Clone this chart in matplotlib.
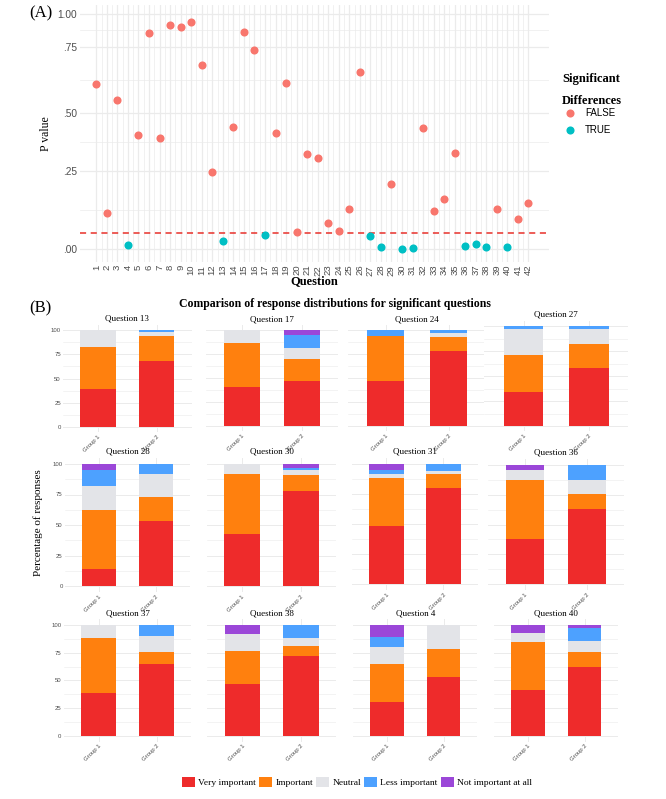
import numpy as np
import matplotlib
matplotlib.use("Agg")
import matplotlib.pyplot as plt
from matplotlib.patches import Patch

# ---- panel A data: p value per question ----
questions = list(range(1, 43))
p_values = [0.609, 0.114, 0.549, 0.012, 0.405, 0.856, 0.391, 0.914, 0.899, 0.942,
            0.683, 0.248, 0.026, 0.441, 0.864, 0.740, 0.045, 0.415, 0.614, 0.055,
            0.323, 0.305, 0.084, 0.058, 0.128, 0.655, 0.041, 0.006, 0.207, 0.001,
            0.004, 0.434, 0.123, 0.159, 0.326, 0.009, 0.016, 0.005, 0.128, 0.007,
            0.095, 0.147]
alpha = 0.05

# ---- panel B data: % of responses per level, group 1 / group 2 ----
levels = ["Very important", "Important", "Neutral", "Less important", "Not important at all"]
level_colors = ["#EE2B2B", "#FF800E", "#E3E4E8", "#4DA1FF", "#9B47D8"]
sig_questions = [13, 17, 24, 27, 28, 30, 31, 36, 37, 38, 4, 40]
group1_pct = [[39, 43, 18, 0, 0], [41, 45, 14, 0, 0], [47, 47, 0, 6, 0], [34, 37, 26, 3, 0],
              [14, 48, 20, 13, 5], [43, 49, 8, 0, 0], [48, 40, 4, 3, 5], [38, 49, 9, 0, 4],
              [39, 49, 12, 0, 0], [47, 30, 15, 0, 8], [31, 34, 15, 9, 11], [41, 44, 8, 0, 7]]
group2_pct = [[68, 26, 4, 2, 0], [47, 23, 11, 14, 5], [78, 15, 4, 3, 0], [58, 24, 15, 3, 0],
              [53, 20, 19, 8, 0], [78, 13, 4, 2, 3], [80, 12, 2, 6, 0], [63, 13, 11, 13, 0],
              [65, 11, 14, 10, 0], [72, 9, 7, 12, 0], [53, 25, 22, 0, 0], [62, 14, 10, 11, 3]]
groups = ["Group 1", "Group 2"]

W, H = 666, 799
SERIF = "Liberation Serif"
SANS = "Liberation Sans"
GRID = "#EBEBEB"


def box(x0, y0, x1, y1):
    # pixel box (top-left origin) -> figure fraction rect
    return [x0 / W, 1 - y1 / H, (x1 - x0) / W, (y1 - y0) / H]


fig = plt.figure(figsize=(W / 100, H / 100), dpi=100)

# ================= panel A =================
ax = fig.add_axes(box(80, 5, 549, 262))
# the y axis in the source is not evenly spaced, so map tick values to their spacing
kv = [-1, 0, 0.25, 0.5, 0.75, 1, 2]
kd = [-312, 0, 78, 136, 202, 235, 367]
ax.set_yscale("function", functions=(lambda v: np.interp(v, kv, kd),
                                     lambda d: np.interp(d, kd, kv)))
p = np.array(p_values)
q = np.array(questions)
ns = p >= alpha
h_false = ax.scatter(q[ns], p[ns], s=34, color="#F8766D", zorder=3, linewidths=0)
h_true = ax.scatter(q[~ns], p[~ns], s=34, color="#00BFC4", zorder=3, linewidths=0)
ax.axhline(alpha, color="#E8302A", linestyle=(0, (4, 3)), linewidth=1.1, zorder=2)
ax.set_xlim(-0.55, 43.95)
ax.set_ylim(-0.042, 1.068)
ax.set_yticks([0, 0.25, 0.5, 0.75, 1.0])
ax.set_yticklabels([".00", ".25", ".50", ".75", "1.00"])
ax.set_yticks([0.125, 0.375, 0.625, 0.875], minor=True)
ax.set_xticks(questions)
ax.set_xticklabels([str(i) for i in questions], rotation=90)
ax.set_xticks(np.arange(1.5, 42, 1), minor=True)
ax.grid(True, which="major", color=GRID, linewidth=0.9)
ax.grid(True, which="minor", color=GRID, linewidth=0.5)
ax.set_axisbelow(True)
for s in ax.spines.values():
    s.set_visible(False)
ax.tick_params(which="both", length=0, labelsize=7.3, labelcolor="#4D4D4D", pad=2)
ax.tick_params(axis="x", labelsize=6.8)
for t in ax.get_xticklabels() + ax.get_yticklabels():
    t.set_family(SANS)
ax.set_xlabel("Question", family=SERIF, weight="bold", fontsize=9, labelpad=0)
ax.set_ylabel("P value", family=SERIF, fontsize=8.5, labelpad=4)
fig.text(29 / W, 1 - 13 / H, "(A)", family=SERIF, fontsize=12, va="center")

fig.text(562 / W, 1 - 79 / H, "Significant", family=SERIF, weight="bold", fontsize=9, va="center")
fig.text(562 / W, 1 - 101 / H, "Differences", family=SERIF, weight="bold", fontsize=9, va="center")
fig.legend([h_false, h_true], ["FALSE", "TRUE"], loc="upper left",
           bbox_to_anchor=(560 / W, 1 - 108 / H), frameon=False,
           prop={"family": SANS, "size": 7}, handletextpad=0.6, labelspacing=0.7,
           borderaxespad=0, borderpad=0)

# ================= panel B =================
fig.text(29 / W, 1 - 308 / H, "(B)", family=SERIF, fontsize=12, va="center")
fig.text(335 / W, 1 - 304 / H,
         "Comparison of response distributions for significant questions",
         family=SERIF, weight="bold", fontsize=8.5, ha="center", va="center")
fig.text(38 / W, 1 - 523 / H, "Percentage of responses", family=SERIF, fontsize=8,
         rotation=90, ha="center", va="center")

# bar centres (px) and 100/0 levels (px) for each small panel
centres = [(98, 156.5), (241.5, 301.5), (385.5, 448.5), (523.5, 589),
           (99, 156), (242, 301), (386.5, 443.5), (525, 587),
           (98.5, 156.5), (242.5, 301), (387, 443.5), (528, 584.5)]
levels_px = [(330, 427), (330, 426), (330, 426), (326, 426),
             (464, 586), (464, 586), (464, 584), (465, 584),
             (625, 736), (625, 736), (625, 736), (625, 736)]

for i, qn in enumerate(sig_questions):
    c1, c2 = centres[i]
    y100, y0 = levels_px[i]
    u = c2 - c1
    k = (y0 - y100) / 100
    bx = fig.add_axes(box(c1 - 0.6 * u, y100 - 5 * k, c1 + 1.6 * u, y0 + 5 * k))
    vals = np.array([group1_pct[i], group2_pct[i]])
    bottom = np.zeros(2)
    for j in range(len(levels)):
        bx.bar([1, 2], vals[:, j], bottom=bottom, width=0.6, color=level_colors[j],
               linewidth=0, zorder=2)
        bottom += vals[:, j]
    bx.set_xlim(0.4, 2.6)
    bx.set_ylim(-5, 105)
    bx.set_yticks([0, 25, 50, 75, 100])
    bx.set_yticks([12.5, 37.5, 62.5, 87.5], minor=True)
    bx.set_xticks([1, 2])
    bx.set_xticklabels(groups, rotation=45, ha="right", rotation_mode="anchor",
                       family=SANS, fontsize=4)
    bx.grid(True, which="major", color=GRID, linewidth=0.7)
    bx.grid(True, which="minor", axis="y", color=GRID, linewidth=0.4)
    bx.set_axisbelow(True)
    for s in bx.spines.values():
        s.set_visible(False)
    bx.tick_params(which="both", length=0, labelsize=4.3, labelcolor="#4D4D4D", pad=1.5)
    if i % 4 != 0:
        bx.set_yticklabels([])
    else:
        for t in bx.get_yticklabels():
            t.set_family(SANS)
    bx.set_title("Question " + str(qn), family=SERIF, fontsize=6.5, pad=3)

handles = [Patch(facecolor=c, edgecolor="none") for c in level_colors]
fig.legend(handles, levels, loc="center", bbox_to_anchor=(357 / W, 1 - 782 / H),
           ncol=5, frameon=False, prop={"family": SERIF, "size": 6.8},
           handlelength=1.4, handleheight=1.4, handletextpad=0.3, columnspacing=0.35,
           borderaxespad=0, borderpad=0)

fig.savefig("out.png", dpi=100)
